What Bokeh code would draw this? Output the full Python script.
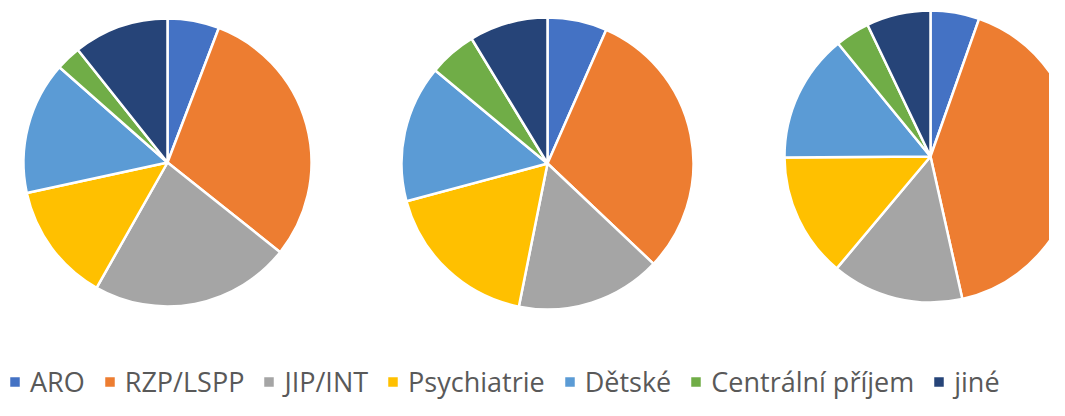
import numpy as np
from bokeh.plotting import figure
from bokeh.models import Range1d, ColumnDataSource
from bokeh.embed import file_html
from bokeh.resources import INLINE

categories = ["ARO", "RZP/LSPP", "JIP/INT", "Psychiatrie", "Dětské", "Centrální příjem", "jiné"]
colors = ["#4472C4", "#ED7D31", "#A5A5A5", "#FFC000", "#5B9BD5", "#70AD47", "#264478"]
pie1 = [5.8, 29.9, 22.5, 13.4, 14.9, 2.8, 10.7]
pie2 = [6.6, 30.5, 16.1, 17.7, 15.2, 5.3, 8.7]
pie3 = [5.4, 41.1, 14.6, 13.8, 14.2, 3.8, 7.1]

W, H = 1049, 400
p = figure(width=W, height=H, output_backend="svg", toolbar_location=None,
           x_range=Range1d(0, W), y_range=Range1d(0, H), min_border=0,
           x_axis_type=None, y_axis_type=None)
p.outline_line_color = None
p.grid.visible = False
p.background_fill_color = "white"

# layout: (center x, center y, radius) in pixels of the plot frame
layout = [(167, 238, 144), (547, 237, 146), (930, 244, 146)]

for k, (vals, (cx, cy, r)) in enumerate(zip([pie1, pie2, pie3], layout)):
    fr = np.array(vals, dtype=float)
    fr = fr / fr.sum()
    cum = np.concatenate([[0.0], np.cumsum(fr)])
    src = ColumnDataSource(dict(
        start=np.pi / 2 - cum[:-1] * 2 * np.pi,
        end=np.pi / 2 - cum[1:] * 2 * np.pi,
        color=colors,
        cat=categories,
    ))
    kw = dict(legend_field="cat") if k == 0 else {}
    p.wedge(x=cx, y=cy, radius=r, start_angle="start", end_angle="end",
            direction="clock", fill_color="color", line_color="white",
            line_width=2.5, source=src, **kw)

lg = p.legend[0]
lg.orientation = "horizontal"
lg.location = (7, 0)
lg.glyph_width = 15
lg.glyph_height = 15
lg.label_standoff = 8
lg.spacing = 17
lg.padding = 0
lg.margin = 0
lg.border_line_color = None
lg.background_fill_alpha = 0
lg.label_text_font = "Open Sans"
lg.label_text_font_size = "27px"
lg.label_text_color = "#595959"

open("out.html", "w").write(file_html(p, INLINE))
